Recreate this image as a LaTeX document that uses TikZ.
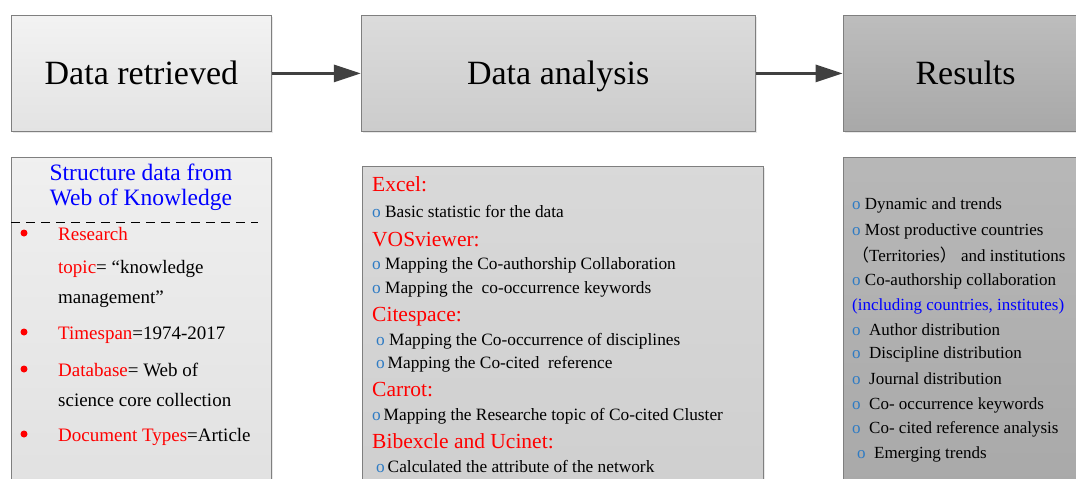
\documentclass[tikz,border=0pt]{standalone}
\usepackage{fontspec}
\setmainfont{Liberation Serif}
\newfontfamily\cjk{Noto Sans CJK SC}
\usetikzlibrary{positioning,arrows.meta,shadows}

\definecolor{boxline}{HTML}{7F7F7F}
\definecolor{flowgray}{HTML}{404040}
\definecolor{dotblue}{HTML}{2E7BC4}
\newcommand{\omark}{\textcolor{dotblue}{o}}

\tikzset{
  stagebox/.style={draw=boxline, line width=0.8pt, minimum height=116pt,
    font=\fontsize{34}{40}\selectfont, text height=28pt, text depth=6pt,
    drop shadow={opacity=0.18, shadow xshift=2pt, shadow yshift=-2pt}},
  infobox/.style={draw=boxline, line width=0.8pt, minimum height=345pt,
    drop shadow={opacity=0.18, shadow xshift=2pt, shadow yshift=-2pt}},
  flow/.style={-{Triangle[length=27pt,width=17pt]}, line width=3pt, draw=flowgray},
  item/.style={anchor=base west, inner sep=0pt},
  srcitem/.style={item, yshift=-6pt, font=\fontsize{19}{22}\selectfont},
  toolhead/.style={item, yshift=-7pt, text=red, font=\fontsize{21.5}{24}\selectfont},
  toolitem/.style={item, yshift=-5.5pt, font=\fontsize{17.3}{20}\selectfont},
  reditem/.style={item, yshift=-5.5pt, font=\fontsize{17}{20}\selectfont},
  redbullet/.style={circle, fill=red, inner sep=0pt, minimum size=7pt}
}

\begin{document}
\begin{tikzpicture}[x=1pt, y=-1pt]
    \useasboundingbox (0,0) rectangle (1076,479);
    \clip (0,0) rectangle (1076,479);

    % Stages
    \node (retrieved) [stagebox, minimum width=260pt, top color=white!95!black, bottom color=white!89!black,
      anchor=north west] at (11,15) {Data retrieved};
    \node (analysis) [stagebox, minimum width=394pt, top color=white!86!black, bottom color=white!80!black,
      right=89pt of retrieved] {Data analysis};
    \node (results) [stagebox, minimum width=245pt, top color=white!74!black, bottom color=white!66!black,
      right=87pt of analysis, text width=214pt, align=left] {\hspace*{57pt}Results};

    % Details
    \node (source) [infobox, minimum width=260pt, top color=white!94!black, bottom color=white!88!black,
      below=25pt of retrieved.south west, anchor=north west] {};
    \node (tools) [infobox, minimum width=401pt, top color=white!85!black, bottom color=white!81!black,
      below=34pt of analysis.south west, anchor=north west, xshift=1pt] {};
    \node (findings) [infobox, minimum width=245pt, top color=white!72!black, bottom color=white!66!black,
      below=25pt of results.south west, anchor=north west] {};

    % Arrows
    \draw[flow] (retrieved) -- (analysis);
    \draw[flow] (analysis) -- (results);

    % Source box
    \node (srcTitle) at (141,187) [align=center, text=blue, font=\fontsize{23.5}{25}\selectfont]
      {Structure data from\\Web of Knowledge};
    \coordinate (cutL) at (11,222);
    \coordinate (cutR) at (258,222);
    \draw[dash pattern=on 9pt off 6pt, line width=1pt] (cutL) -- (cutR);
    \node (b1) [redbullet] at (24,233) {};
    \node (b2) [redbullet] at (24,332) {};
    \node (b3) [redbullet] at (24,369) {};
    \node (b4) [redbullet] at (24,434) {};
    \node (topicA) [srcitem] at (58,234) {\textcolor{red}{Research}};
    \node (topicB) [srcitem] at (58,267) {\textcolor{red}{topic}= “knowledge};
    \node (topicC) [srcitem] at (58,297) {management”};
    \node (span) [srcitem] at (58,333) {\textcolor{red}{Timespan}=1974-2017};
    \node (baseA) [srcitem] at (58,370) {\textcolor{red}{Database}= Web of};
    \node (baseB) [srcitem] at (58,400) {science core collection};
    \node (doctype) [srcitem] at (58,435) {\textcolor{red}{Document Types}=Article};

    % Tools box
    \node (excelHd) [toolhead] at (372,184) {Excel:};
    \node (excelA) [toolitem] at (372,212) {\omark{} Basic statistic for the data};
    \node (vosHd) [toolhead] at (372,239) {VOSviewer:};
    \node (vosA) [toolitem] at (372,264) {\omark{} Mapping the Co-authorship Collaboration};
    \node (vosB) [toolitem] at (372,288) {\omark{} Mapping the \ co-occurrence keywords};
    \node (citeHd) [toolhead] at (372,314) {Citespace:};
    \node (citeA) [toolitem] at (376,340) {\omark{} Mapping the Co-occurrence of disciplines};
    \node (citeB) [toolitem] at (376,363) {\omark{}\,Mapping the Co-cited \ reference};
    \node (carHd) [toolhead] at (372,389) {Carrot:};
    \node (carA) [toolitem] at (372,415) {\omark{}\,Mapping the Researche topic of Co-cited Cluster};
    \node (netHd) [toolhead] at (372,441) {Bibexcle and Ucinet:};
    \node (netA) [toolitem] at (376,467) {\omark{}\,Calculated the attribute of the network};

    % Findings box
    \node (resA) [reditem] at (852,204) {\omark{} Dynamic and trends};
    \node (resB) [reditem] at (852,230) {\omark{} Most productive countries};
    \node (resC) [reditem] at (852,256) {{\cjk （}Territories{\cjk ）} and institutions};
    \node (resD) [reditem] at (852,280) {\omark{} Co-authorship collaboration};
    \node (resE) [reditem, text=blue] at (852,305) {(including countries, institutes)};
    \node (resF) [reditem] at (852,330) {\omark{} \ Author distribution};
    \node (resG) [reditem] at (852,353) {\omark{} \ Discipline distribution};
    \node (resH) [reditem] at (852,379) {\omark{} \ Journal distribution};
    \node (resI) [reditem] at (852,404) {\omark{} \ Co- occurrence keywords};
    \node (resJ) [reditem] at (852,428) {\omark{} \ Co- cited reference analysis};
    \node (resK) [reditem] at (857,453) {\omark{} \ Emerging trends};
\end{tikzpicture}
\end{document}
